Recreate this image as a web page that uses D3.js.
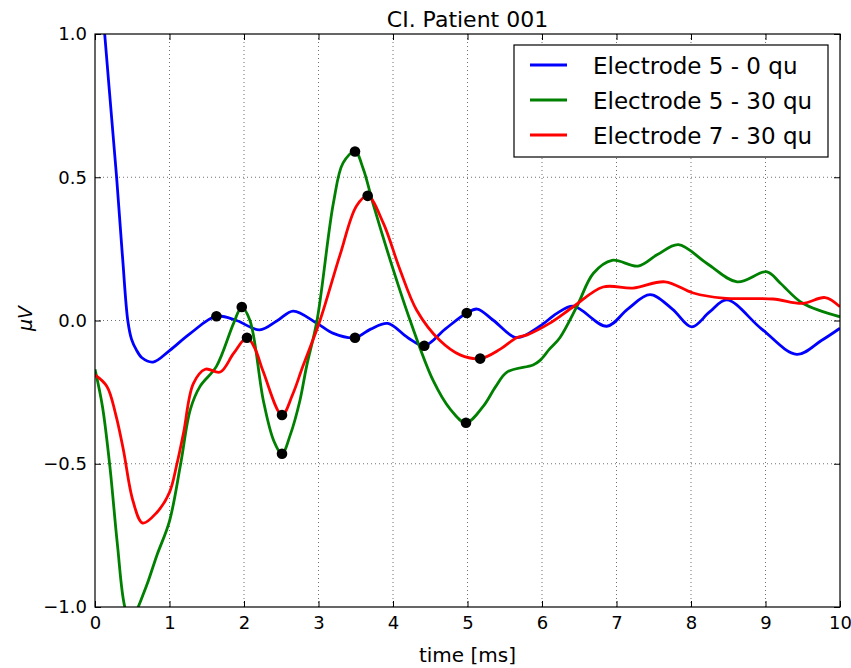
<!DOCTYPE html>
<html>
<head>
<meta charset="utf-8">
<script src="https://cdn.jsdelivr.net/npm/d3@7"></script>
<style>
  body { margin: 0; background: #fff; }
  text { font-family: "DejaVu Sans", sans-serif; fill: #000; }
</style>
</head>
<body>
<svg id="chart" width="851" height="668"></svg>
<script>
// values (time in ms, amplitude in µV)
const title = "CI. Patient 001";
const seriesNames = ["Electrode 5 - 0 qu", "Electrode 5 - 30 qu", "Electrode 7 - 30 qu"];
const seriesColors = ["#0000ff", "#008000", "#ff0000"];

const blueTime = [0, 0.13, 0.29, 0.37, 0.44, 0.49, 0.55, 0.63, 0.78, 1.0, 1.28, 1.63, 1.9, 2.21, 2.45, 2.66, 2.98, 3.2, 3.49, 3.7, 3.93, 4.2, 4.42, 4.7, 4.99, 5.13, 5.35, 5.66, 5.97, 6.2, 6.42, 6.87, 7.15, 7.45, 7.75, 8.01, 8.25, 8.48, 8.95, 9.42, 9.75, 10];
const blueVal = [1.45, 1.0, 0.5, 0.22, 0.0, -0.065, -0.1, -0.13, -0.145, -0.105, -0.045, 0.015, 0.0, -0.033, 0.0, 0.033, -0.01, -0.045, -0.06, -0.03, -0.01, -0.06, -0.088, -0.03, 0.026, 0.04, 0.0, -0.06, -0.02, 0.025, 0.05, -0.02, 0.04, 0.09, 0.04, -0.022, 0.03, 0.072, -0.03, -0.118, -0.07, -0.027];

const greenTime = [0, 0.1, 0.2, 0.3, 0.4, 0.49, 0.58, 0.7, 0.83, 1.0, 1.15, 1.28, 1.41, 1.63, 1.86, 1.97, 2.08, 2.26, 2.4, 2.51, 2.62, 2.75, 2.84, 2.98, 3.2, 3.33, 3.49, 3.6, 3.73, 4.0, 4.23, 4.54, 4.77, 4.98, 5.21, 5.38, 5.53, 5.88, 5.97, 6.1, 6.24, 6.47, 6.69, 6.94, 7.29, 7.55, 7.83, 8.21, 8.62, 9.02, 9.2, 9.5, 10];
const greenVal = [-0.17, -0.3, -0.51, -0.78, -1.0, -1.06, -1.0, -0.92, -0.82, -0.7, -0.5, -0.31, -0.23, -0.16, -0.01, 0.047, 0.0, -0.28, -0.42, -0.465, -0.4, -0.28, -0.16, 0.0, 0.41, 0.55, 0.59, 0.53, 0.41, 0.18, 0.0, -0.21, -0.31, -0.357, -0.3, -0.23, -0.18, -0.155, -0.14, -0.1, -0.06, 0.05, 0.165, 0.21, 0.19, 0.23, 0.265, 0.2, 0.135, 0.17, 0.13, 0.06, 0.013];

const redTime = [0, 0.16, 0.28, 0.38, 0.51, 0.64, 0.83, 1.0, 1.1, 1.19, 1.32, 1.48, 1.68, 1.86, 2.04, 2.15, 2.26, 2.51, 2.65, 2.79, 3.02, 3.29, 3.51, 3.66, 3.87, 4.09, 4.32, 4.63, 4.9, 5.17, 5.44, 5.66, 5.8, 6.1, 6.42, 6.82, 7.22, 7.65, 8.03, 8.43, 9.1, 9.5, 9.8, 10];
const redVal = [-0.19, -0.23, -0.33, -0.45, -0.63, -0.707, -0.67, -0.6, -0.5, -0.39, -0.22, -0.17, -0.18, -0.115, -0.06, -0.1, -0.18, -0.33, -0.26, -0.16, 0.0, 0.23, 0.4, 0.435, 0.34, 0.18, 0.035, -0.07, -0.12, -0.133, -0.1, -0.06, -0.05, -0.01, 0.048, 0.117, 0.113, 0.135, 0.096, 0.078, 0.075, 0.06, 0.08, 0.048];

// black dots on the curves
const markTime = [1.63, 3.49, 4.42, 4.99, 1.97, 2.51, 3.49, 4.98, 2.04, 2.51, 3.66, 5.17];
const markVal = [0.015, -0.06, -0.088, 0.026, 0.047, -0.465, 0.59, -0.357, -0.06, -0.33, 0.435, -0.133];

const xTicks = [0, 1, 2, 3, 4, 5, 6, 7, 8, 9, 10];
const yTicks = [-1.0, -0.5, 0.0, 0.5, 1.0];

const margin = {left: 95, right: 11, top: 34, bottom: 61};
const width = 851, height = 668;
const svg = d3.select("#chart");

const x = d3.scaleLinear().domain([0, 10]).range([margin.left, width - margin.right]);
const y = d3.scaleLinear().domain([-1, 1]).range([height - margin.bottom, margin.top]);

svg.append("defs").append("clipPath").attr("id", "plotclip")
    .append("rect")
    .attr("x", x(0)).attr("y", y(1))
    .attr("width", x(10) - x(0)).attr("height", y(-1) - y(1));

// grid
const grid = svg.append("g");
grid.selectAll(".gx").data(xTicks.slice(1, -1)).enter().append("line")
    .attr("x1", d => x(d)).attr("x2", d => x(d))
    .attr("y1", y(1)).attr("y2", y(-1))
    .attr("stroke", "#000").attr("stroke-width", 0.8)
    .attr("stroke-dasharray", "1,3").attr("opacity", 0.7);
grid.selectAll(".gy").data(yTicks.slice(1, -1)).enter().append("line")
    .attr("y1", d => y(d)).attr("y2", d => y(d))
    .attr("x1", x(0)).attr("x2", x(10))
    .attr("stroke", "#000").attr("stroke-width", 0.8)
    .attr("stroke-dasharray", "1,3").attr("opacity", 0.7);

// curves
const line = d3.line()
    .x(d => x(d[0]))
    .y(d => y(d[1]))
    .curve(d3.curveCatmullRom.alpha(0.5));

const series = [
    d3.zip(blueTime, blueVal),
    d3.zip(greenTime, greenVal),
    d3.zip(redTime, redVal)
];

const plot = svg.append("g").attr("clip-path", "url(#plotclip)");
plot.selectAll("path.curve")
    .data(series)
    .enter()
    .append("path")
    .attr("class", "curve")
    .attr("d", d => line(d))
    .attr("fill", "none")
    .attr("stroke", (d, i) => seriesColors[i])
    .attr("stroke-width", 2.8)
    .attr("stroke-linejoin", "round");

plot.selectAll("circle")
    .data(d3.zip(markTime, markVal))
    .enter()
    .append("circle")
    .attr("cx", d => x(d[0]))
    .attr("cy", d => y(d[1]))
    .attr("r", 5.3)
    .attr("fill", "#000");

// axes, ticks inside on all four sides (classic matplotlib look)
const fmtY = d => d3.format(".1f")(d).replace("-", "\u2212");
svg.append("g")
    .attr("transform", `translate(0,${y(-1)})`)
    .call(d3.axisBottom(x).tickValues(xTicks).tickSize(-6).tickPadding(9).tickFormat(d3.format("d")))
    .call(g => g.select(".domain").remove())
    .call(g => g.selectAll("text").attr("font-size", 18).attr("font-family", "DejaVu Sans"));
svg.append("g")
    .attr("transform", `translate(0,${y(1)})`)
    .call(d3.axisTop(x).tickValues(xTicks).tickSize(-6).tickFormat(""))
    .call(g => g.select(".domain").remove());
svg.append("g")
    .attr("transform", `translate(${x(0)},0)`)
    .call(d3.axisLeft(y).tickValues(yTicks).tickSize(-6).tickPadding(8).tickFormat(fmtY))
    .call(g => g.select(".domain").remove())
    .call(g => g.selectAll("text").attr("font-size", 18).attr("font-family", "DejaVu Sans"));
svg.append("g")
    .attr("transform", `translate(${x(10)},0)`)
    .call(d3.axisRight(y).tickValues(yTicks).tickSize(-6).tickFormat(""))
    .call(g => g.select(".domain").remove());

svg.append("rect")
    .attr("x", x(0)).attr("y", y(1))
    .attr("width", x(10) - x(0)).attr("height", y(-1) - y(1))
    .attr("fill", "none").attr("stroke", "#000").attr("stroke-width", 1.2);

// labels
svg.append("text")
    .attr("x", (x(0) + x(10)) / 2).attr("y", 27)
    .attr("text-anchor", "middle").attr("font-size", 22)
    .text(title);
svg.append("text")
    .attr("x", (x(0) + x(10)) / 2).attr("y", 662)
    .attr("text-anchor", "middle").attr("font-size", 20)
    .text("time [ms]");
svg.append("text")
    .attr("transform", `translate(32,${y(0) - 2}) rotate(-90)`)
    .attr("text-anchor", "middle").attr("font-size", 19)
    .attr("font-style", "italic")
    .text("\u03bcV");

// legend
const legend = svg.append("g").attr("transform", "translate(514,45)");
legend.append("rect")
    .attr("width", 314).attr("height", 112)
    .attr("fill", "#fff").attr("stroke", "#000").attr("stroke-width", 1.2);
const rows = legend.selectAll("g.row")
    .data(seriesNames)
    .enter()
    .append("g")
    .attr("transform", (d, i) => `translate(0,${20 + i * 35})`);
rows.append("line")
    .attr("x1", 16).attr("x2", 53)
    .attr("stroke", (d, i) => seriesColors[i])
    .attr("stroke-width", 2.8);
rows.append("text")
    .attr("x", 79).attr("y", 9)
    .attr("font-size", 23)
    .text(d => d);
</script>
</body>
</html>
